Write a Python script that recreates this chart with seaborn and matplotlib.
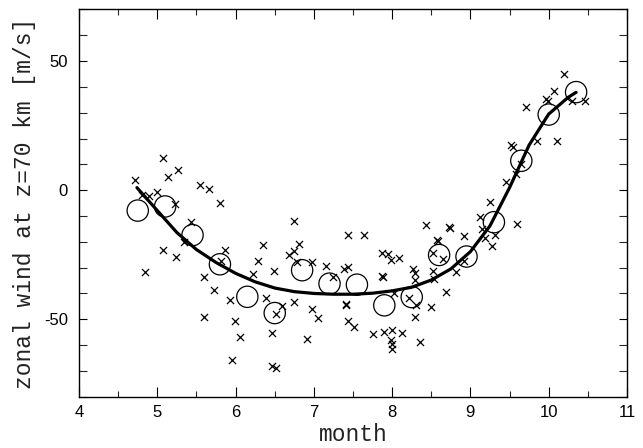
import numpy as np
import pandas as pd
import matplotlib
matplotlib.use("Agg")
import matplotlib.pyplot as plt
from matplotlib.ticker import MultipleLocator, FuncFormatter
import seaborn as sns

# Individual zonal-wind observations at z = 70 km (month, m/s)
obs_month = [
    4.71, 4.81, 4.90, 5.00, 5.07, 5.14, 5.27, 5.22, 5.54, 5.66, 5.80, 5.43, 5.34,
    5.07, 5.24, 4.84, 5.60, 5.72, 5.60, 5.86, 5.81, 6.75, 6.35, 6.81, 6.74, 6.68,
    6.29, 6.79, 6.98, 7.15, 6.49, 6.22, 5.93, 6.39, 6.59, 6.75, 6.98, 7.05, 6.52,
    5.99, 6.06, 6.46, 6.91, 5.96, 6.46, 6.52, 7.24, 7.38, 7.44, 7.44, 7.64, 7.41,
    7.41, 7.43, 7.51, 8.43, 8.57, 8.59, 7.87, 7.95, 7.98, 8.09, 8.52, 8.65, 7.87,
    7.88, 8.27, 8.29, 8.29, 8.52, 8.53, 8.02, 8.21, 8.30, 8.49, 8.29, 7.76, 7.89,
    8.00, 8.13, 7.98, 8.00, 8.00, 8.36, 8.69, 8.82, 8.92, 8.72, 8.74, 8.92, 9.12,
    9.19, 9.32, 9.28, 9.15, 9.59, 9.25, 9.45, 9.58, 9.64, 9.52, 9.54, 9.85, 10.10,
    9.71, 9.97, 9.99, 10.07, 10.20, 10.30, 10.46,
]
obs_wind = [
    4.1, -1.9, -2.2, -0.8, 12.3, 5.0, 7.9, -5.5, 1.9, 0.4, -5.0, -12.3, -20.0,
    -23.3, -26.0, -31.6, -33.7, -38.8, -49.2, -23.3, -27.5, -12.0, -21.4, -20.7, -23.6, -25.2,
    -27.3, -27.8, -27.8, -29.5, -31.3, -32.6, -42.6, -41.6, -45.0, -43.4, -45.9, -49.7, -48.0,
    -50.5, -56.9, -55.2, -57.6, -65.8, -68.1, -68.7, -33.5, -30.7, -29.7, -17.2, -17.2, -43.9,
    -44.6, -50.7, -53.0, -13.3, -19.2, -19.8, -24.5, -24.9, -27.0, -26.2, -24.3, -26.5, -33.3,
    -33.5, -30.5, -31.9, -34.8, -31.2, -34.4, -39.7, -41.8, -44.3, -45.1, -49.3, -55.8, -54.9,
    -54.0, -55.3, -58.0, -59.6, -61.5, -58.8, -39.5, -31.5, -27.4, -14.2, -14.5, -17.8, -10.3,
    -18.4, -17.4, -21.8, -15.2, -13.2, -4.4, 3.2, 6.1, 10.2, 17.4, 16.9, 19.2, 19.2,
    32.4, 35.2, 34.5, 38.3, 45.1, 34.4, 34.6,
]

# Bin averages
bin_month = [4.75, 5.10, 5.45, 5.80, 6.15, 6.50, 6.85, 7.20, 7.55,
             7.90, 8.25, 8.60, 8.95, 9.30, 9.65, 10.00, 10.35]
bin_wind = [-7.9, -6.3, -17.4, -28.7, -41.3, -47.6, -31.0, -36.2, -36.6,
            -44.6, -41.4, -25.1, -25.7, -12.4, 11.4, 29.3, 38.0]

# Seasonal fit curve
fit_month = [4.74, 5.00, 5.25, 5.50, 5.75, 6.00, 6.25, 6.50, 6.75, 7.00, 7.25, 7.50,
             7.75, 8.00, 8.25, 8.50, 8.75, 9.00, 9.25, 9.50, 9.75, 10.00, 10.25, 10.35]
fit_wind = [1.0, -7.9, -16.4, -23.0, -28.0, -32.2, -35.5, -37.9, -39.3, -40.0, -40.3, -40.3,
            -39.9, -39.0, -37.6, -34.8, -30.5, -23.8, -13.8, 1.0, 17.5, 29.5, 36.0, 37.9]

obs = pd.DataFrame({"month": obs_month, "wind": obs_wind})
bins = pd.DataFrame({"month": bin_month, "wind": bin_wind})
fit = pd.DataFrame({"month": fit_month, "wind": fit_wind})

sns.set_style("ticks")
plt.rcParams["axes.unicode_minus"] = False
plt.rcParams["font.family"] = ["Liberation Sans", "DejaVu Sans"]

fig = plt.figure(figsize=(6.43, 4.48), dpi=100)
ax = fig.add_axes([0.1229, 0.1145, 0.9751 - 0.1229, 0.9788 - 0.1145])

sns.scatterplot(data=obs, x="month", y="wind", marker="x", s=26, color="black",
                linewidth=0.9, ax=ax, zorder=3)
sns.scatterplot(data=bins, x="month", y="wind", marker="o", s=235,
                facecolor="none", edgecolor="black", linewidth=0.9, ax=ax, zorder=4)
sns.lineplot(data=fit, x="month", y="wind", color="black", linewidth=2.3,
             ax=ax, zorder=5, sort=True)

ax.set_xlim(4, 11)
ax.set_ylim(-80, 70)
ax.xaxis.set_major_locator(MultipleLocator(1))
ax.xaxis.set_minor_locator(MultipleLocator(0.5))
ax.yaxis.set_major_locator(MultipleLocator(50))
ax.yaxis.set_minor_locator(MultipleLocator(10))
ax.yaxis.set_major_formatter(FuncFormatter(lambda v, p: f"{int(round(v))}"))

for side in ax.spines.values():
    side.set_linewidth(1.0)
    side.set_color("black")

ax.tick_params(axis="x", which="major", direction="in", length=7, width=0.8,
               top=True, bottom=True, labelsize=12, pad=6, colors="black")
ax.tick_params(axis="x", which="minor", direction="in", length=4, width=0.8,
               top=True, bottom=True)
ax.tick_params(axis="y", which="major", direction="in", length=6, width=0.8,
               left=True, right=True, labelsize=12, pad=8, colors="black")
ax.tick_params(axis="y", which="minor", direction="in", length=6, width=0.8,
               left=True, right=True)

mono = ["Liberation Mono", "DejaVu Sans Mono"]
ax.set_xlabel("month", fontsize=16.5, family=mono, labelpad=2, color="#222222")
ax.set_ylabel("zonal wind at z=70 km [m/s]", fontsize=16.5, family=mono, labelpad=6,
              color="#222222")

fig.savefig("out.png", dpi=100)
